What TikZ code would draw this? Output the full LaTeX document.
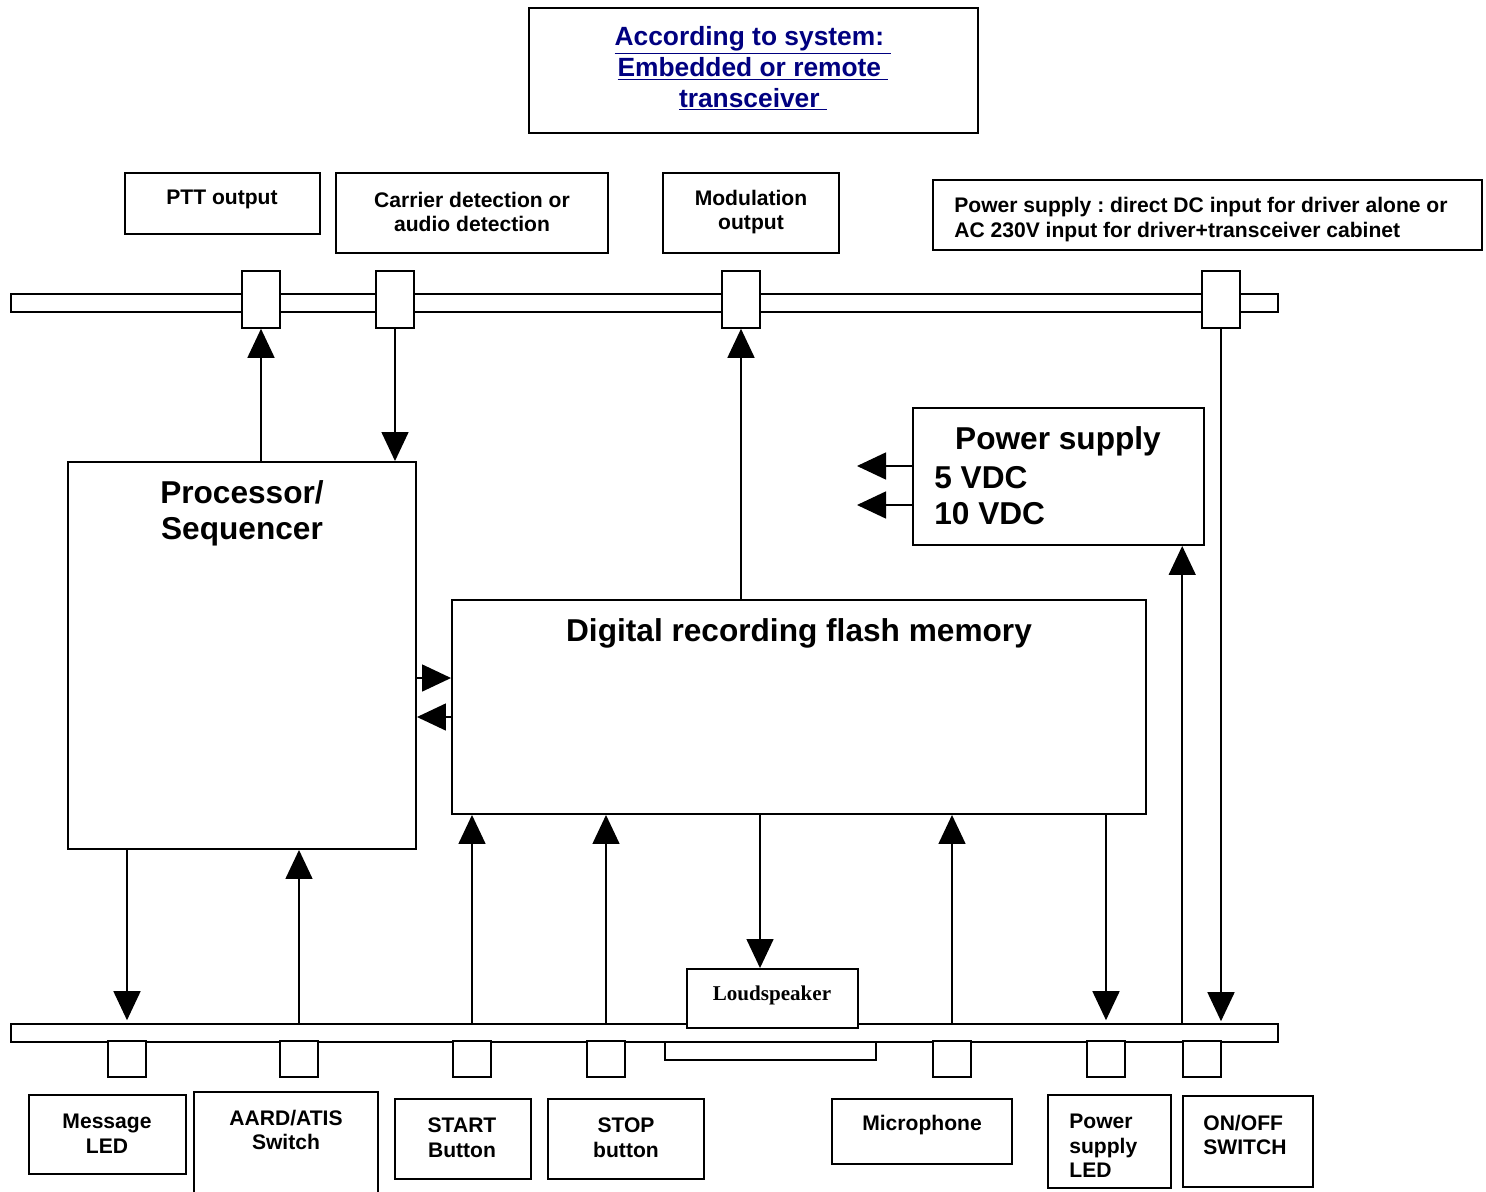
\documentclass[tikz,border=0pt]{standalone}
\usepackage{fontspec}
\setmainfont{Liberation Sans}
\newfontfamily\timesfont{Liberation Serif}
\usepackage{xcolor}
\usetikzlibrary{arrows.meta,positioning,fit,calc}
\definecolor{linkblue}{RGB}{0,0,128}
\frenchspacing

\begin{document}
\begin{tikzpicture}[x=0.02cm, y=-0.02cm,
  box/.style={draw, line width=1.1pt, inner sep=0pt, fill=white},
  port/.style={draw, line width=0.9pt, inner sep=0pt, fill=white},
  lbl/.style={font=\bfseries\fontsize{12}{14}\selectfont, align=center, inner sep=0pt, yshift=-0.05cm},
  biglbl/.style={font=\bfseries\fontsize{18}{20.5}\selectfont, align=center, inner sep=0pt, yshift=-0.06cm},
  arr/.style={line width=0.85pt, -{Triangle[length=0.58cm, width=0.54cm]}}
]
  \useasboundingbox (0,0) rectangle (1486,1192);

  % title box
  \node[box, fit={(529,8) (978,133)}] (sys) {};
  \node[font=\bfseries\fontsize{15}{17.6}\selectfont, text=linkblue, align=center, yshift=-0.05cm] (systxt) at (753,66)
    {\underline{According to system:\ }\\\underline{Embedded or remote\ }\\\underline{transceiver\ }};

  % top labels
  \node[box, fit={(125,173) (320,234)}] (ptt) {};
  \node[box, fit={(336,173) (608,253)}] (carrier) {};
  \node[box, fit={(663,173) (839,253)}] (modout) {};
  \node[box, fit={(933,180) (1482,250)}] (psin) {};
  \node[lbl] (ptttxt) at (222,197) {PTT output};
  \node[lbl] (cartxt) at (472,209.5) {Carrier detection or\\audio detection};
  \node[lbl] (modtxt) at (751,209.5) {Modulation\\output};
  \node[lbl, align=left, anchor=west] (psintxt) at (954,217)
    {Power supply : direct DC input for driver alone or\\AC 230V input for driver+transceiver cabinet};

  % top bus and its ports
  \node[port, fit={(11,294) (1278,312)}] (topbus) {};
  \node[port, fit={(242,271) (280,328)}] (pttport) {};
  \node[port, fit={(376,271) (414,328)}] (carport) {};
  \node[port, fit={(722,271) (760,328)}] (modport) {};
  \node[port, fit={(1202,271) (1240,328)}] (pwrport) {};

  % main blocks
  \node[box, fit={(68,462) (416,849)}] (proc) {};
  \node[biglbl] (proctxt) at (242,510) {Processor/\\Sequencer};
  \node[box, fit={(913,408) (1204,545)}] (psu) {};
  \node[biglbl] (psutxt) at (1058,438) {Power supply};
  \node[biglbl, align=left, anchor=west] (volttxt) at (934,492.5) {5 VDC\\10 VDC};
  \node[box, fit={(452,600) (1146,814)}] (mem) {};
  \node[biglbl] (memtxt) at (799,630) {Digital recording flash memory};

  % bottom bus and its ports
  \node[port, fit={(11,1024) (1278,1042)}] (botbus) {};
  \node[port, fit={(108,1041) (146,1077)}] (msgport) {};
  \node[port, fit={(280,1041) (318,1077)}] (aardport) {};
  \node[port, fit={(453,1041) (491,1077)}] (startport) {};
  \node[port, fit={(587,1041) (625,1077)}] (stopport) {};
  \node[port, fit={(665,1042) (876,1060)}] (spkport) {};
  \node[port, fit={(933,1041) (971,1077)}] (micport) {};
  \node[port, fit={(1087,1041) (1125,1077)}] (ledport) {};
  \node[port, fit={(1183,1041) (1221,1077)}] (onport) {};
  \node[box, fit={(687,969) (858,1028)}] (spk) {};
  \node[font=\timesfont\bfseries\fontsize{12}{14}\selectfont, inner sep=0pt, yshift=-0.04cm] (spktxt) at (772,993) {Loudspeaker};

  % bottom labels
  \node[box, fit={(29,1095) (186,1174)}] (msg) {};
  \node[box, fit={(194,1092) (378,1200)}] (aard) {};
  \node[box, fit={(395,1099) (531,1179)}] (start) {};
  \node[box, fit={(548,1099) (704,1179)}] (stop) {};
  \node[box, fit={(832,1099) (1012,1164)}] (mic) {};
  \node[box, fit={(1048,1095) (1171,1188)}] (led) {};
  \node[box, fit={(1183,1096) (1313,1187)}] (onoff) {};
  \node[lbl] (msgtxt) at (107,1131) {Message\\LED};
  \node[lbl] (aardtxt) at (286,1127.5) {AARD/ATIS\\Switch};
  \node[lbl] (starttxt) at (462,1135.5) {START\\Button};
  \node[lbl] (stoptxt) at (626,1135.5) {STOP\\button};
  \node[lbl] (mictxt) at (922,1123) {Microphone};
  \node[lbl, align=left, anchor=west] (ledtxt) at (1069,1143.5) {Power\\supply\\LED};
  \node[lbl, align=left, anchor=west] (ontxt) at (1203,1132.5) {ON/OFF\\SWITCH};

  % connections
  \coordinate (v5) at (857,466);
  \coordinate (v10) at (857,505);
  \coordinate (link1) at (0,678);
  \coordinate (link2) at (0,717);
  \draw[arr] (proc.north -| pttport) -- (pttport.south);
  \draw[arr] (carport.south) -- (carport.south |- proc.north);
  \draw[arr] (mem.north -| modport) -- (modport.south);
  \draw[arr] (pwrport.south) -- ([yshift=0.04cm]pwrport.south |- botbus.north);
  \draw[arr] (psu.west |- v5) -- (v5);
  \draw[arr] (psu.west |- v10) -- (v10);
  \draw[arr] (proc.east |- link1) -- (mem.west |- link1);
  \draw[arr] (mem.west |- link2) -- (proc.east |- link2);
  \draw[arr] (proc.south -| msgport) -- ([yshift=0.06cm]msgport |- botbus.north);
  \draw[arr] (aardport |- botbus.north) -- (aardport |- proc.south);
  \draw[arr] (startport |- botbus.north) -- (startport |- mem.south);
  \draw[arr] (stopport |- botbus.north) -- (stopport |- mem.south);
  \draw[arr] ([xshift=-0.25cm]spk.north |- mem.south) -- ([xshift=-0.25cm]spk.north);
  \draw[arr] (micport |- botbus.north) -- (micport |- mem.south);
  \draw[arr] (mem.south -| ledport) -- ([yshift=0.06cm]ledport |- botbus.north);
  \draw[arr] (onport.west |- botbus.north) -- (onport.west |- psu.south);
\end{tikzpicture}
\end{document}
